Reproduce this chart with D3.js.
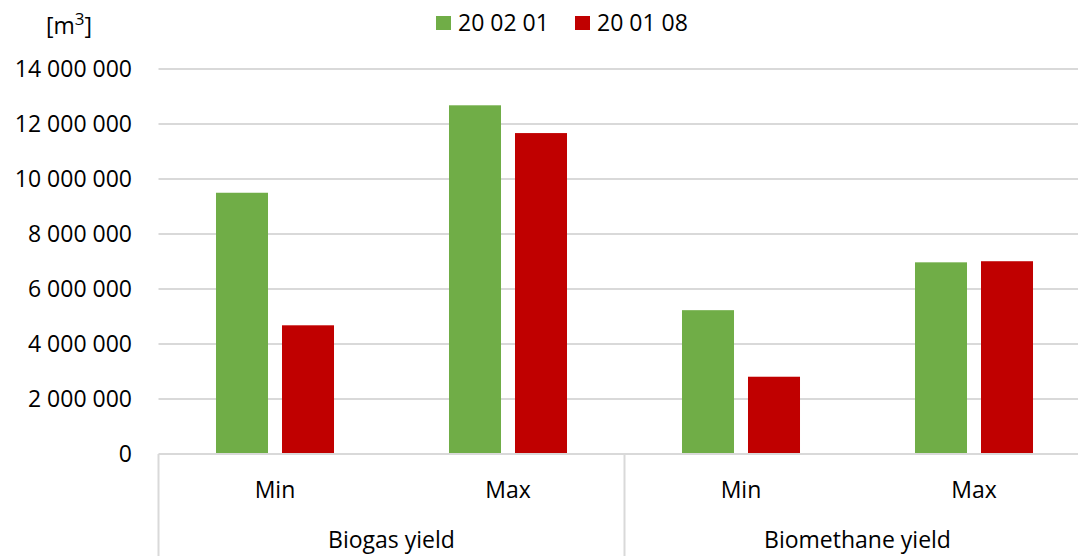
<!DOCTYPE html>
<html>
<head>
<meta charset="utf-8">
<script src="https://cdn.jsdelivr.net/npm/d3@7"></script>
<style>
  body { margin: 0; background: #fff; }
  text { font-family: "Open Sans", "Liberation Sans", sans-serif; fill: #000; }
</style>
</head>
<body>
<svg width="1078" height="556"></svg>
<script>
// data
var groups = ["Biogas yield", "Biomethane yield"];
var categories = ["Min", "Max"];
var seriesNames = ["20 02 01", "20 01 08"];
var seriesColors = ["#70ad47", "#c00000"];
var green = [9500000, 12680000, 5230000, 6970000];
var red = [4680000, 11670000, 2810000, 7010000];
var yTicks = [0, 2000000, 4000000, 6000000, 8000000, 10000000, 12000000, 14000000];

var svg = d3.select("svg");
var plotLeft = 158.5, plotRight = 1090.5, plotTop = 69, plotBottom = 454;

// one key per group/category pair
var keys = [];
groups.forEach(function(g) { categories.forEach(function(c) { keys.push(g + "|" + c); }); });
var seriesData = [green, red];

var x = d3.scaleBand().domain(keys).range([plotLeft, plotRight]);
var xs = d3.scaleBand().domain(seriesNames).range([0, x.bandwidth()])
    .paddingInner(0.212).paddingOuter(0.871);
var y = d3.scaleLinear().domain([0, 14000000]).range([plotBottom, plotTop]);

var fmt = function(d) { return d3.format(",")(d).replace(/,/g, " "); };

// gridlines
svg.append("g").selectAll("line")
    .data(yTicks.slice(1))
    .enter().append("line")
    .attr("x1", plotLeft).attr("x2", plotRight)
    .attr("y1", function(d) { return y(d); }).attr("y2", function(d) { return y(d); })
    .attr("stroke", "#d9d9d9").attr("stroke-width", 2);

// y labels
svg.append("g").selectAll("text")
    .data(yTicks)
    .enter().append("text")
    .attr("x", 132)
    .attr("y", function(d) { return y(d); })
    .attr("dy", "0.35em")
    .attr("text-anchor", "end")
    .style("font-size", "23px")
    .text(fmt);

// bars
seriesNames.forEach(function(s, i) {
  svg.append("g").selectAll("rect")
    .data(seriesData[i])
    .enter().append("rect")
    .attr("x", function(d, j) { return x(keys[j]) + xs(s); })
    .attr("width", xs.bandwidth())
    .attr("y", function(d) { return y(d); })
    .attr("height", function(d) { return plotBottom - y(d); })
    .attr("fill", seriesColors[i]);
});

// baseline + category dividers
svg.append("line")
    .attr("x1", plotLeft).attr("x2", plotRight).attr("y1", plotBottom).attr("y2", plotBottom)
    .attr("stroke", "#d9d9d9").attr("stroke-width", 2);
var groupWidth = x.bandwidth() * categories.length;
d3.range(groups.length + 1).forEach(function(i) {
  var gx = plotLeft + i * groupWidth;
  svg.append("line")
    .attr("x1", gx).attr("x2", gx).attr("y1", plotBottom).attr("y2", 556)
    .attr("stroke", "#d9d9d9").attr("stroke-width", 2);
});

// category labels
svg.append("g").selectAll("text")
    .data(keys)
    .enter().append("text")
    .attr("x", function(k) { return x(k) + x.bandwidth() / 2; })
    .attr("y", 490).attr("dy", "0.35em")
    .attr("text-anchor", "middle")
    .style("font-size", "23px")
    .text(function(k) { return k.split("|")[1]; });

svg.append("g").selectAll("text")
    .data(groups)
    .enter().append("text")
    .attr("x", function(g, i) { return plotLeft + (i + 0.5) * groupWidth; })
    .attr("y", 540).attr("dy", "0.35em")
    .attr("text-anchor", "middle")
    .style("font-size", "23px")
    .text(function(g) { return g; });

// unit label
var unit = svg.append("text").attr("x", 46).attr("y", 26).attr("dy", "0.35em")
    .style("font-size", "23px");
unit.append("tspan").text("[m");
unit.append("tspan").attr("dy", "-9").style("font-size", "17px").text("3");
unit.append("tspan").attr("dy", "9").text("]");

// legend
var legendX = [436, 575];
seriesNames.forEach(function(s, i) {
  svg.append("rect")
    .attr("x", legendX[i]).attr("y", 16).attr("width", 15).attr("height", 14)
    .attr("fill", seriesColors[i]);
  svg.append("text")
    .attr("x", legendX[i] + 22).attr("y", 23).attr("dy", "0.35em")
    .style("font-size", "23px")
    .text(s);
});
</script>
</body>
</html>
